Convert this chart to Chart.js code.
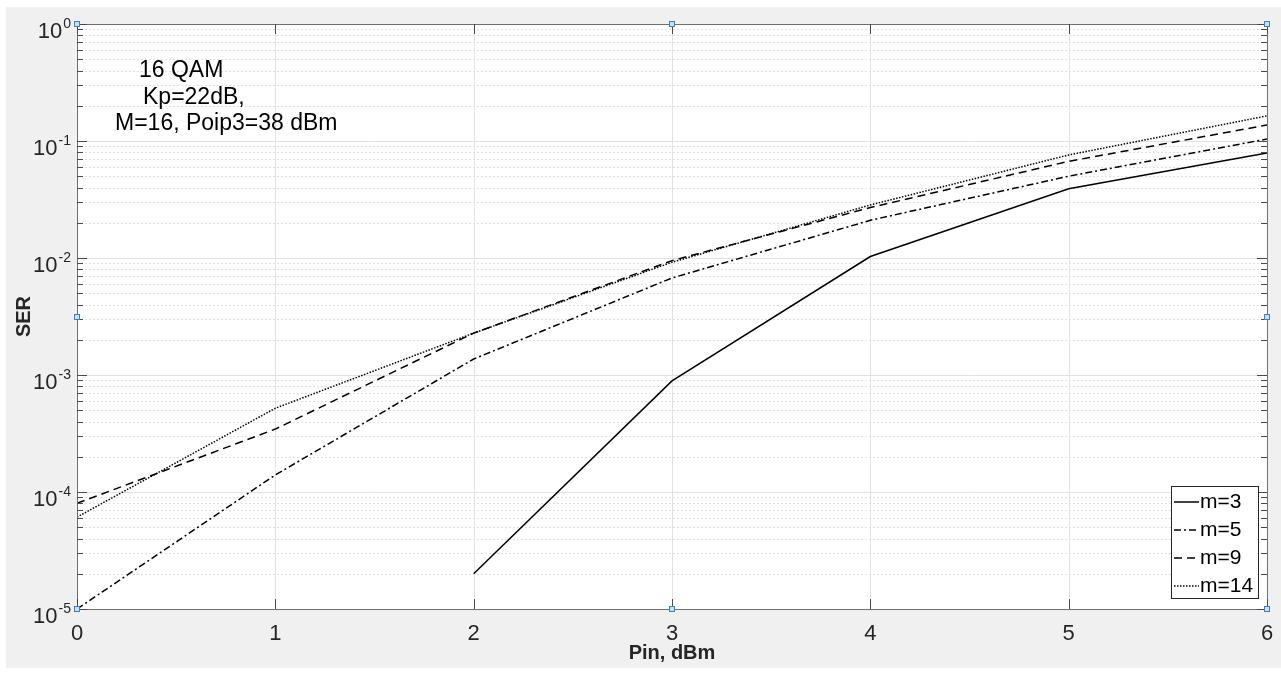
<!DOCTYPE html>
<html>
<head>
<meta charset="utf-8">
<script src="https://cdn.jsdelivr.net/npm/chart.js@4.4.1/dist/chart.umd.min.js"></script>
<style>
  html, body { margin: 0; padding: 0; background: #fff; }
  #wrap { width: 1281px; height: 675px; }
</style>
</head>
<body>
<div id="wrap"><canvas id="chart" width="1281" height="675"></canvas></div>
<script>
// SER vs input power for different m
const pinValues = [0, 1, 2, 3, 4, 5, 6]
const serM3 = [null, null, 2.0e-5, 8.9e-4, 1.03e-2, 3.9e-2, 7.9e-2]
const serM5 = [1.0e-5, 1.4e-4, 1.37e-3, 6.75e-3, 2.1e-2, 5.0e-2, 1.04e-1]
const serM9 = [8.0e-5, 3.45e-4, 2.28e-3, 9.5e-3, 2.7e-2, 6.7e-2, 1.37e-1]
const serM14 = [6.1e-5, 5.2e-4, 2.28e-3, 9.2e-3, 2.84e-2, 7.6e-2, 1.64e-1]
const seriesLabels = ['m=3', 'm=5', 'm=9', 'm=14']
const xTicks = [0, 1, 2, 3, 4, 5, 6]
const yExponents = [-5, -4, -3, -2, -1, 0]
const noteLines = ['16 QAM', 'Kp=22dB,', 'M=16, Poip3=38 dBm']

const FONT = '"Liberation Sans", Arial, Helvetica, sans-serif'

const toPoints = arr => arr.map((v, i) => ({ x: pinValues[i], y: v }))

const lineStyle = (label, data, dash) => ({
  label: label,
  data: toPoints(data),
  borderColor: '#000',
  backgroundColor: '#000',
  borderWidth: 1.5,
  borderDash: dash,
  pointRadius: 0,
  tension: 0,
  spanGaps: false,
})

const matlabAxes = {
  id: 'matlabAxes',
  beforeDraw(chart) {
    const { ctx } = chart
    ctx.save()
    ctx.fillStyle = '#f0f0f0'
    ctx.fillRect(6, 7, chart.width - 6, 661)
    ctx.restore()
  },
  beforeDatasetsDraw(chart) {
    const { ctx, chartArea: a } = chart
    const xs = chart.scales.x, ys = chart.scales.y
    ctx.save()
    ctx.fillStyle = '#fff'
    ctx.fillRect(a.left, a.top, a.right - a.left, a.bottom - a.top)

    // minor grid (dotted)
    ctx.strokeStyle = '#e0e0e0'
    ctx.lineWidth = 1
    ctx.setLineDash([2, 2])
    yExponents.slice(0, -1).forEach(e => {
      for (let k = 2; k <= 9; k++) {
        const y = Math.round(ys.getPixelForValue(k * Math.pow(10, e))) + 0.5
        ctx.beginPath(); ctx.moveTo(a.left, y); ctx.lineTo(a.right, y); ctx.stroke()
      }
    })
    // major grid
    ctx.setLineDash([])
    ctx.strokeStyle = '#e2e2e2'
    yExponents.forEach(e => {
      const y = Math.round(ys.getPixelForValue(Math.pow(10, e))) + 0.5
      ctx.beginPath(); ctx.moveTo(a.left, y); ctx.lineTo(a.right, y); ctx.stroke()
    })
    xTicks.forEach(t => {
      const x = Math.round(xs.getPixelForValue(t)) + 0.5
      ctx.beginPath(); ctx.moveTo(x, a.top); ctx.lineTo(x, a.bottom); ctx.stroke()
    })
    ctx.restore()
  },
  afterDatasetsDraw(chart) {
    const { ctx, chartArea: a } = chart
    const xs = chart.scales.x, ys = chart.scales.y
    ctx.save()
    ctx.setLineDash([])

    // box
    ctx.strokeStyle = '#707070'
    ctx.lineWidth = 1
    ctx.strokeRect(Math.round(a.left) + 0.5, Math.round(a.top) + 0.5,
      Math.round(a.right - a.left), Math.round(a.bottom - a.top))

    // ticks
    ctx.strokeStyle = '#4a4a4a'
    const tick = (x1, y1, x2, y2) => { ctx.beginPath(); ctx.moveTo(x1, y1); ctx.lineTo(x2, y2); ctx.stroke() }
    yExponents.forEach((e, i) => {
      const y = Math.round(ys.getPixelForValue(Math.pow(10, e))) + 0.5
      tick(a.left, y, a.left + 10, y)
      tick(a.right, y, a.right - 10, y)
      if (i < yExponents.length - 1) {
        for (let k = 2; k <= 9; k++) {
          const ym = Math.round(ys.getPixelForValue(k * Math.pow(10, e))) + 0.5
          tick(a.left, ym, a.left + 6, ym)
          tick(a.right, ym, a.right - 6, ym)
        }
      }
    })
    xTicks.forEach(t => {
      const x = Math.round(xs.getPixelForValue(t)) + 0.5
      tick(x, a.bottom, x, a.bottom - 10)
      tick(x, a.top, x, a.top + 10)
    })

    // tick labels
    ctx.fillStyle = '#262626'
    ctx.textBaseline = 'alphabetic'
    ctx.font = '22px ' + FONT
    ctx.textAlign = 'center'
    xTicks.forEach(t => {
      ctx.fillText(String(t), xs.getPixelForValue(t), a.bottom + 31)
    })
    yExponents.forEach(e => {
      const y = ys.getPixelForValue(Math.pow(10, e))
      const expTxt = String(e)
      ctx.font = '14px ' + FONT
      const ew = ctx.measureText(expTxt).width
      const ex = a.left - 6 - ew
      ctx.textAlign = 'left'
      ctx.fillText(expTxt, ex, y + 4)
      ctx.font = '22px ' + FONT
      ctx.textAlign = 'right'
      ctx.fillText('10', ex - 1, y + 14)
    })

    // axis titles
    ctx.fillStyle = '#262626'
    ctx.font = 'bold 20px ' + FONT
    ctx.textAlign = 'center'
    ctx.fillText('Pin, dBm', (a.left + a.right) / 2, a.bottom + 50)
    ctx.save()
    ctx.translate(30, (a.top + a.bottom) / 2)
    ctx.rotate(-Math.PI / 2)
    ctx.fillText('SER', 0, 0)
    ctx.restore()

    // text note
    ctx.fillStyle = '#000'
    ctx.font = '23px ' + FONT
    ctx.textAlign = 'left'
    const noteX = [a.left + 62, a.left + 66, a.left + 38]
    noteLines.forEach((line, i) => {
      ctx.fillText(line, noteX[i], a.top + 53 + i * 26.5)
    })

    // legend box
    const lx = a.right - 96, ly = a.bottom - 123, lw = 87, lh = 112
    ctx.fillStyle = '#fff'
    ctx.fillRect(lx, ly, lw, lh)
    ctx.strokeStyle = '#262626'
    ctx.lineWidth = 1
    ctx.strokeRect(lx + 0.5, ly + 0.5, lw, lh)
    ctx.font = '21px ' + FONT
    ctx.textBaseline = 'middle'
    chart.data.datasets.forEach((ds, i) => {
      const cy = ly + 16 + i * 28
      ctx.strokeStyle = '#000'
      ctx.lineWidth = 1.5
      ctx.setLineDash(ds.borderDash || [])
      ctx.beginPath(); ctx.moveTo(lx + 3, cy); ctx.lineTo(lx + 28, cy); ctx.stroke()
      ctx.setLineDash([])
      ctx.fillStyle = '#000'
      ctx.fillText(ds.label, lx + 29, cy)
    })

    // selection handles
    const hx = [a.left, (a.left + a.right) / 2, a.right]
    const hy = [a.top, (a.top + a.bottom) / 2, a.bottom]
    ctx.fillStyle = '#c4e1f7'
    ctx.strokeStyle = '#3b80c2'
    ctx.lineWidth = 1
    hx.forEach((x, i) => hy.forEach((y, j) => {
      if (i === 1 && j === 1) return
      ctx.fillRect(Math.round(x) - 3, Math.round(y) - 3, 6, 6)
      ctx.strokeRect(Math.round(x) - 2.5, Math.round(y) - 2.5, 5, 5)
    }))
    ctx.restore()
  }
}

const ctx = document.getElementById('chart').getContext('2d')
const chart = new Chart(ctx, {
  type: 'line',
  data: {
    datasets: [
      lineStyle(seriesLabels[0], serM3, []),
      lineStyle(seriesLabels[1], serM5, [7, 3, 2, 3]),
      lineStyle(seriesLabels[2], serM9, [8, 5]),
      lineStyle(seriesLabels[3], serM14, [1.5, 1.5]),
    ],
  },
  options: {
    responsive: false,
    animation: false,
    layout: { padding: { left: 77, right: 14, top: 24, bottom: 66 } },
    plugins: {
      legend: { display: false },
      tooltip: { enabled: false },
    },
    scales: {
      x: { type: 'linear', min: 0, max: 6, display: false },
      y: { type: 'logarithmic', min: 1e-5, max: 1, display: false },
    },
  },
  plugins: [matlabAxes],
})
</script>
</body>
</html>
